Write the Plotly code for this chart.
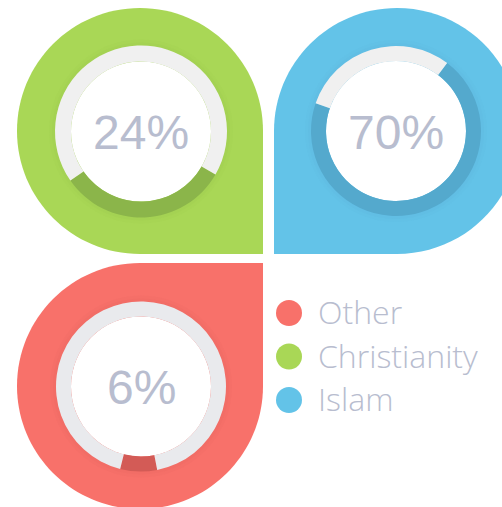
import plotly.graph_objects as go

# ---------------- data ----------------
categories = ["Christianity", "Islam", "Other"]
label_pct = [24, 70, 6]          # numbers printed in the centres
arc_pct = [32, 70, 7]            # share covered by the dark arc as drawn
arc_start_deg = [120, 37, 169]   # where the dark arc starts (clockwise from 12 o'clock)
legend_order = ["Other", "Christianity", "Islam"]

# ---------------- styles ----------------
W, H = 502, 507
petal_col = {"Christianity": "#a9d756", "Islam": "#63c3e8", "Other": "#f8716a"}
arc_col = {"Christianity": "#8bb54a", "Islam": "#54a9cd", "Other": "#d35b56"}
ring_col = {"Christianity": "#f0f0f0", "Islam": "#f0f0f0", "Other": "#e9eaed"}
text_col = "#b8bdcf"

# petal geometry (pixel space): centre, radius, sharp-corner quadrant
petal_geo = {
    "Christianity": (140, 131, 123, 3),   # sharp corner bottom-right
    "Islam": (397, 131, 123, 2),          # sharp corner bottom-left
    "Other": (140, 386, 123, 0),          # sharp corner top-right
}
donut_geo = {
    "Christianity": (141, 131.5, 86),
    "Islam": (396, 131, 85),
    "Other": (141, 386.5, 85),
}
hole_r = 70


def petal_path(cx, cy, r, i):
    k = 0.5523
    card = [(cx + r, cy), (cx, cy - r), (cx - r, cy), (cx, cy + r)]
    corners = [(cx + r, cy - r), (cx - r, cy - r), (cx - r, cy + r), (cx + r, cy + r)]
    c = corners[i]
    p = f"M{c[0]},{c[1]} L{card[(i + 1) % 4][0]},{card[(i + 1) % 4][1]}"
    for s in range(3):
        P = card[(i + 1 + s) % 4]
        Q = card[(i + 2 + s) % 4]
        c1 = (P[0] + k * (Q[0] - cx), P[1] + k * (Q[1] - cy))
        c2 = (Q[0] + k * (P[0] - cx), Q[1] + k * (P[1] - cy))
        p += f" C{c1[0]:.2f},{c1[1]:.2f} {c2[0]:.2f},{c2[1]:.2f} {Q[0]},{Q[1]}"
    return p + " Z"


fig = go.Figure()
shapes = []
annotations = []

for cat in categories:
    cx, cy, r, q = petal_geo[cat]
    shapes.append(dict(type="path", path=petal_path(cx, cy, r, q), xref="x", yref="y",
                       fillcolor=petal_col[cat], line=dict(width=0), layer="below"))
for cat in categories:
    dx, dy, dr = donut_geo[cat]
    # soft shadow
    for extra, op in [(6, 0.06), (3, 0.08)]:
        shapes.append(dict(type="circle", xref="x", yref="y",
                           x0=dx - dr - extra, x1=dx + dr + extra,
                           y0=dy - dr - extra, y1=dy + dr + extra,
                           fillcolor=arc_col[cat], opacity=op, line=dict(width=0), layer="below"))
    shapes.append(dict(type="circle", xref="x", yref="y",
                       x0=dx - hole_r, x1=dx + hole_r, y0=dy - hole_r, y1=dy + hole_r,
                       fillcolor="#ffffff", line=dict(width=0), layer="below"))

for idx, cat in enumerate(categories):
    dx, dy, dr = donut_geo[cat]
    fig.add_trace(go.Pie(
        values=[arc_pct[idx], 100 - arc_pct[idx]],
        labels=[cat, "rest"],
        marker=dict(colors=[arc_col[cat], ring_col[cat]], line=dict(width=0)),
        hole=hole_r / dr,
        sort=False, direction="clockwise", rotation=arc_start_deg[idx],
        textinfo="none", hoverinfo="skip", showlegend=False,
        domain=dict(x=[(dx - dr) / W, (dx + dr) / W],
                    y=[1 - (dy + dr) / H, 1 - (dy - dr) / H]),
    ))
    annotations.append(dict(x=dx, y=dy + 1, xref="x", yref="y", text=f"{label_pct[idx]}%",
                            showarrow=False, xanchor="center", yanchor="middle",
                            font=dict(family="Liberation Sans, Arial, sans-serif",
                                      size=48, color=text_col)))

# legend (drawn manually)
leg_x, leg_y0, leg_dy = 289, 313, 43.5
leg_y = [leg_y0 + j * leg_dy for j in range(len(legend_order))]
fig.add_trace(go.Scatter(
    x=[leg_x] * len(legend_order), y=leg_y, mode="markers",
    marker=dict(size=26, color=[petal_col[c] for c in legend_order], line=dict(width=0)),
    hoverinfo="skip", showlegend=False, cliponaxis=False,
))
for c, yy in zip(legend_order, leg_y):
    annotations.append(dict(x=leg_x + 27, y=yy - 1.5, xref="x", yref="y", text=c,
                            showarrow=False, xanchor="left", yanchor="middle",
                            font=dict(family="Open Sans, sans-serif", size=32,
                                      color=text_col, weight=300)))

fig.update_layout(
    width=W, height=H, margin=dict(l=0, r=0, t=0, b=0),
    paper_bgcolor="#ffffff", plot_bgcolor="rgba(0,0,0,0)",
    xaxis=dict(range=[0, W], visible=False, fixedrange=True),
    yaxis=dict(range=[H, 0], visible=False, fixedrange=True),
    shapes=shapes, annotations=annotations, showlegend=False,
)

fig.write_html(
    "out.html",
    config={"displayModeBar": False, "staticPlot": True},
    post_script="document.body.style.margin='0';document.body.style.overflow='hidden';",
)
